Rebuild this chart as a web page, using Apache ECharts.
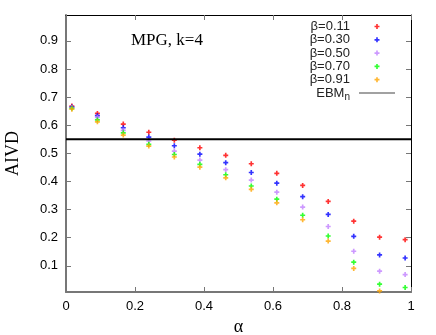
<!DOCTYPE html>
<html>
<head>
<meta charset="utf-8">
<script src="https://cdn.jsdelivr.net/npm/echarts@6/dist/echarts.min.js"></script>
<style>
  html, body { margin: 0; padding: 0; background: #fff; }
  #main { width: 436px; height: 335px; }
</style>
</head>
<body>
<div id="main"></div>
<script>
// alpha positions of the points
var alphas = [0.017, 0.091, 0.166, 0.24, 0.314, 0.388, 0.463, 0.537, 0.611, 0.686, 0.76, 0.834, 0.909, 0.983];

var seriesNames = ["β=0.11", "β=0.30", "β=0.50", "β=0.70", "β=0.91"];
var seriesColors = ["#ff0000", "#0000ff", "#c080ff", "#00ff00", "#ffa500"];

var aivd011 = [0.668, 0.642, 0.604, 0.575, 0.547, 0.520, 0.493, 0.463, 0.429, 0.386, 0.329, 0.259, 0.202, 0.193];
var aivd030 = [0.665, 0.634, 0.591, 0.558, 0.527, 0.497, 0.467, 0.432, 0.394, 0.346, 0.283, 0.205, 0.139, 0.128];
var aivd050 = [0.663, 0.628, 0.582, 0.544, 0.508, 0.476, 0.442, 0.405, 0.362, 0.309, 0.240, 0.152, 0.081, 0.069];
var aivd070 = [0.660, 0.619, 0.573, 0.532, 0.496, 0.461, 0.424, 0.384, 0.337, 0.280, 0.206, 0.113, 0.035, 0.023];
var aivd091 = [0.657, 0.612, 0.565, 0.526, 0.487, 0.451, 0.413, 0.372, 0.324, 0.264, 0.188, 0.091, 0.011, 0.000];
var allValues = [aivd011, aivd030, aivd050, aivd070, aivd091];

var ebmLevel = 0.55;
var yTicks = [0.1, 0.2, 0.3, 0.4, 0.5, 0.6, 0.7, 0.8, 0.9];

var plusSymbol = "path://M2,0H4V2H6V4H4V6H2V4H0V2H2Z";

var series = [];
for (var s = 0; s < seriesNames.length; s++) {
  var pts = [];
  for (var i = 0; i < alphas.length; i++) {
    pts.push([alphas[i], allValues[s][i]]);
  }
  series.push({
    name: seriesNames[s],
    type: "scatter",
    symbol: plusSymbol,
    symbolSize: 5,
    clip: true,
    itemStyle: { color: seriesColors[s] },
    data: pts,
  });
}
series.push({
  name: "EBMn",
  type: "line",
  symbol: "none",
  lineStyle: { color: "#000", width: 2 },
  itemStyle: { color: "#000" },
  data: [[0, ebmLevel], [1, ebmLevel]],
});

var legendData = seriesNames.map(function (n) { return { name: n }; });
legendData.push({ name: "EBMn", icon: "path://M0,0H120V4H0Z", itemStyle: { color: "#444" } });

var myChart = echarts.init(document.getElementById("main"));

function ticks(extra) {
  var t = { show: true, inside: true, length: 5, lineStyle: { color: "#777", width: 1 } };
  if (extra) t.customValues = extra;
  return t;
}

var option = {
  animation: false,
  textStyle: { fontFamily: "Liberation Sans" },
  grid: { left: 66, right: 25, top: 15, bottom: 43, outerBoundsMode: "none", containLabel: false },
  title: {
    text: "MPG, k=4",
    left: 131,
    top: 32,
    padding: 0,
    textStyle: { fontFamily: "Liberation Serif", fontSize: 17, fontWeight: "normal", color: "#000" },
  },
  legend: {
    orient: "vertical",
    align: "right",
    right: 41,
    top: 20,
    padding: 0,
    itemGap: 0.3,
    itemWidth: 36,
    itemHeight: 5,
    data: legendData,
    formatter: function (name) {
      return name === "EBMn" ? "EBM{sub|n}" : name;
    },
    textStyle: {
      fontSize: 13,
      lineHeight: 13,
      color: "#222",
      padding: [0, 4, 0, 0],
      rich: {
        sub: { fontSize: 10, padding: [8, 0, 0, 0], color: "#222" },
      },
    },
  },
  xAxis: [
    {
      type: "value",
      min: 0,
      max: 1,
      interval: 0.2,
      name: "α",
      nameLocation: "middle",
      nameGap: 25,
      nameTextStyle: { fontFamily: "Liberation Serif", fontSize: 18, color: "#000" },
      axisLine: { show: true, onZero: false, lineStyle: { color: "#777", width: 2 } },
      axisTick: ticks(),
      axisLabel: { fontSize: 13, color: "#000", margin: 8 },
      splitLine: { show: false },
    },
    {
      type: "value",
      position: "top",
      min: 0,
      max: 1,
      interval: 0.2,
      axisLine: { show: true, onZero: false, lineStyle: { color: "#000", width: 1 } },
      axisTick: ticks(),
      axisLabel: { show: false },
      splitLine: { show: false },
    },
  ],
  yAxis: [
    {
      type: "value",
      min: 0.007,
      max: 0.992,
      name: "AIVD",
      nameLocation: "middle",
      nameGap: 44,
      nameTextStyle: { fontFamily: "Liberation Serif", fontSize: 18, color: "#000" },
      axisLine: { show: true, onZero: false, lineStyle: { color: "#777", width: 2 } },
      axisTick: ticks(yTicks),
      axisLabel: {
        fontSize: 13,
        color: "#000",
        margin: 8,
        customValues: yTicks,
        formatter: function (v) { return v.toFixed(1); },
      },
      splitLine: { show: false },
    },
    {
      type: "value",
      position: "right",
      min: 0.007,
      max: 0.992,
      axisLine: { show: true, onZero: false, lineStyle: { color: "#000", width: 1 } },
      axisTick: ticks(yTicks),
      axisLabel: { show: false },
      splitLine: { show: false },
    },
  ],
  series: series,
};

myChart.setOption(option);
</script>
</body>
</html>
